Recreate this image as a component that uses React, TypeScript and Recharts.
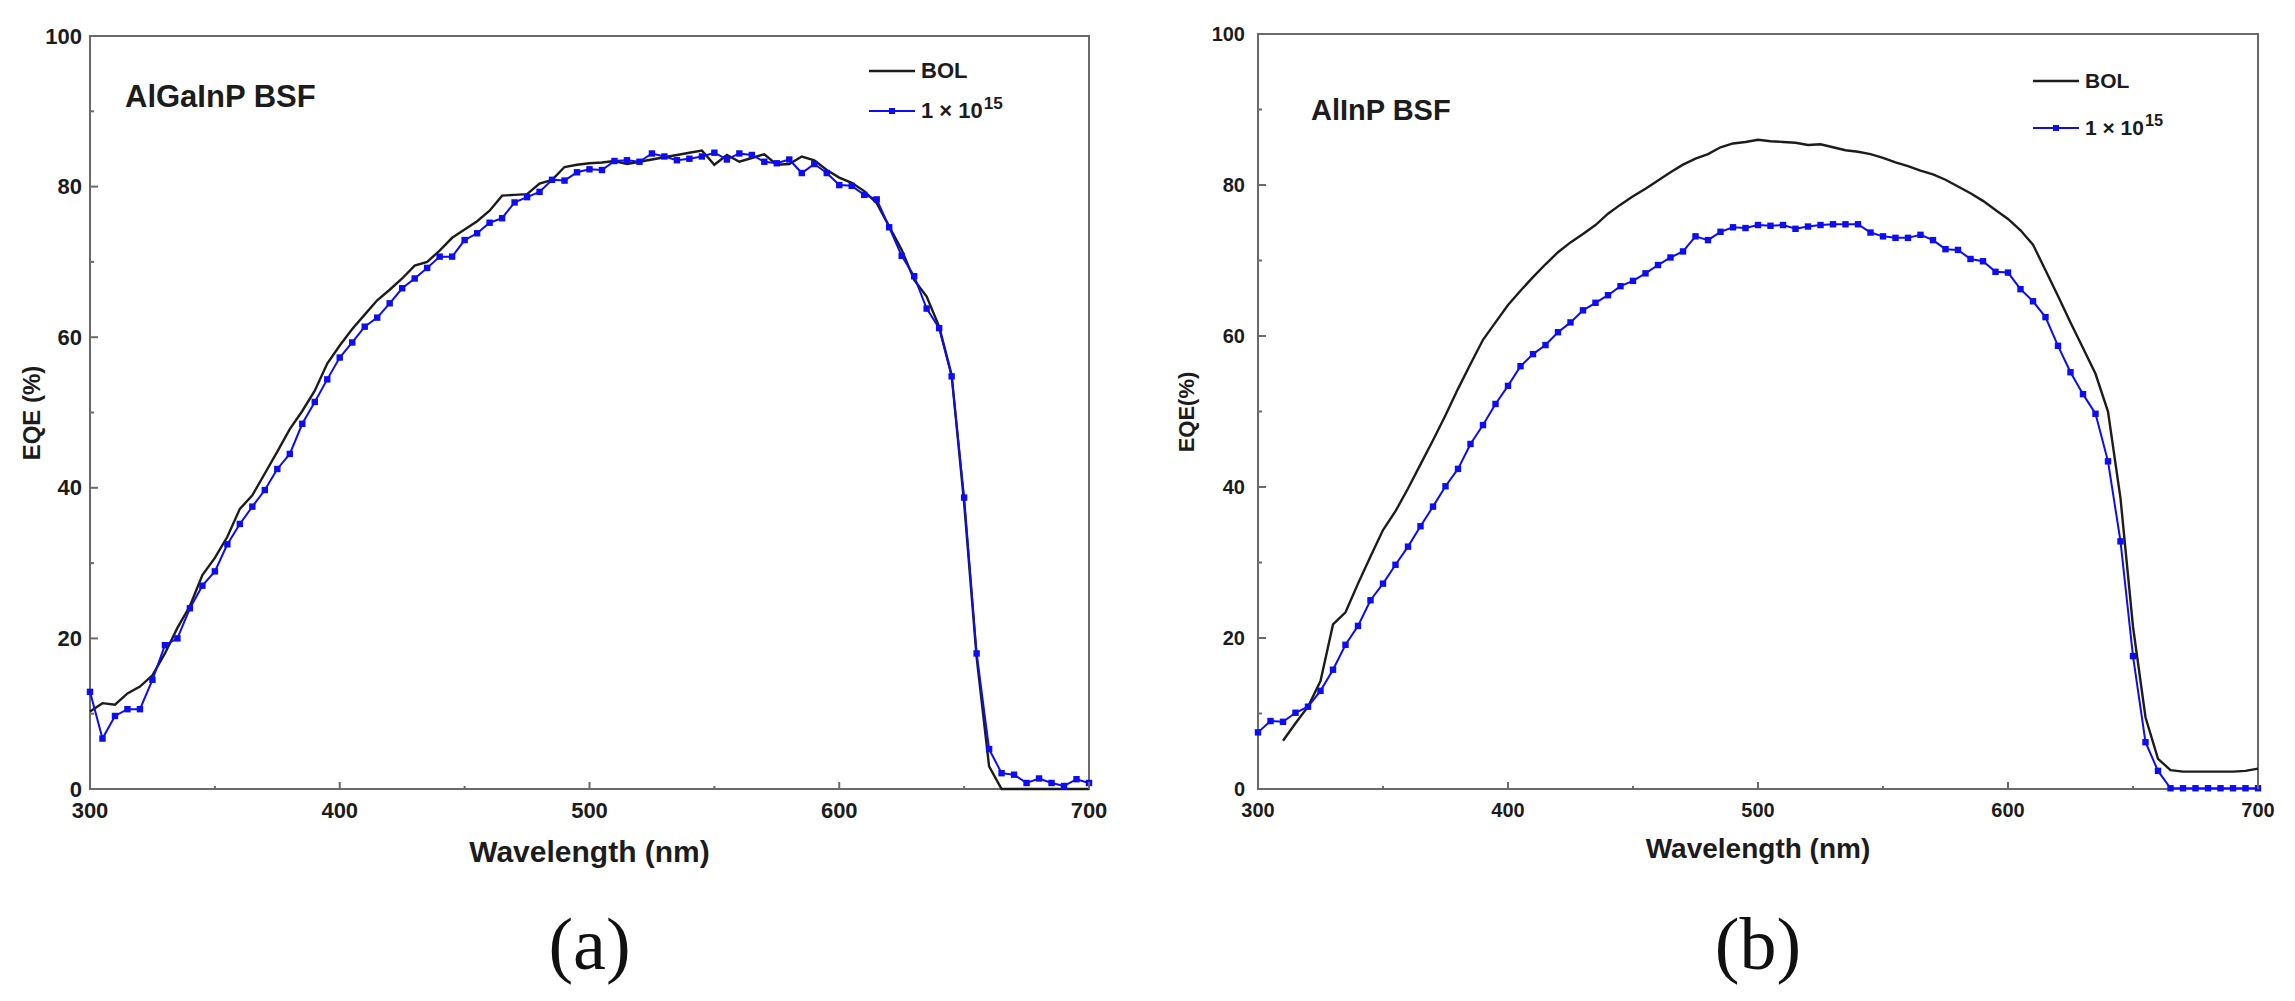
import { LineChart, Line, XAxis, YAxis, ReferenceArea, Legend } from 'recharts'

// ─── Data ───────────────────────────────────────────────────────
const WAVELENGTH = [
  300, 305, 310, 315, 320, 325, 330, 335, 340, 345,
  350, 355, 360, 365, 370, 375, 380, 385, 390, 395,
  400, 405, 410, 415, 420, 425, 430, 435, 440, 445,
  450, 455, 460, 465, 470, 475, 480, 485, 490, 495,
  500, 505, 510, 515, 520, 525, 530, 535, 540, 545,
  550, 555, 560, 565, 570, 575, 580, 585, 590, 595,
  600, 605, 610, 615, 620, 625, 630, 635, 640, 645,
  650, 655, 660, 665, 670, 675, 680, 685, 690, 695,
  700,
]

// (a) AlGaInP BSF
const A_BOL = [
  10.3, 11.4, 11.2, 12.7, 13.6, 15.1, 18.0, 21.4, 24.3, 28.4,
  30.7, 33.5, 37.2, 39.0, 41.9, 44.8, 47.8, 50.2, 52.9, 56.5,
  58.9, 61.1, 63.0, 64.9, 66.3, 67.8, 69.5, 70.0, 71.5, 73.2,
  74.3, 75.4, 76.8, 78.8, 78.9, 79.0, 80.4, 80.9, 82.6, 82.9,
  83.1, 83.2, 83.4, 83.0, 83.3, 83.6, 83.9, 84.2, 84.5, 84.8,
  82.9, 84.2, 83.3, 83.8, 84.3, 82.9, 83.0, 84.0, 83.5, 82.2,
  81.2, 80.5, 79.4, 77.8, 74.7, 71.6, 67.6, 65.4, 61.4, 55.0,
  38.0, 17.5, 3.0, 0, 0, 0, 0, 0, 0, 0,
  0,
]
const A_IRR = [
  12.9, 6.7, 9.7, 10.6, 10.6, 14.5, 19.1, 20.0, 24.0, 27.0,
  28.9, 32.5, 35.2, 37.5, 39.7, 42.5, 44.5, 48.5, 51.4, 54.4,
  57.3, 59.3, 61.4, 62.6, 64.5, 66.5, 67.8, 69.2, 70.7, 70.7,
  72.9, 73.8, 75.2, 75.8, 77.9, 78.6, 79.3, 80.9, 80.8, 81.9,
  82.3, 82.2, 83.4, 83.5, 83.3, 84.4, 84.0, 83.5, 83.7, 84.0,
  84.5, 83.6, 84.4, 84.2, 83.3, 83.1, 83.6, 81.8, 83.0, 81.8,
  80.2, 80.1, 78.9, 78.3, 74.6, 70.8, 68.1, 63.8, 61.2, 54.8,
  38.7, 18.0, 5.3, 2.1, 1.9, 0.8, 1.4, 0.8, 0.4, 1.3,
  0.8,
]

// (b) AlInP BSF
const B_BOL = [
  null, null, 6.4, 8.7, 10.9, 14.3, 21.8, 23.4, 27.2, 30.8,
  34.3, 36.8, 39.8, 43.0, 46.2, 49.5, 53.0, 56.3, 59.5, 61.8,
  64.1, 66.0, 67.8, 69.5, 71.1, 72.4, 73.5, 74.7, 76.2, 77.4,
  78.5, 79.5, 80.6, 81.7, 82.7, 83.5, 84.1, 85.0, 85.5, 85.7,
  86.0, 85.8, 85.7, 85.6, 85.3, 85.4, 85.0, 84.6, 84.4, 84.1,
  83.6, 83.0, 82.5, 81.9, 81.4, 80.7, 79.8, 78.9, 77.9, 76.7,
  75.5, 74.0, 72.1, 68.7, 65.3, 61.8, 58.4, 55.0, 50.0, 38.5,
  21.5, 9.5, 4.0, 2.5, 2.3, 2.3, 2.3, 2.3, 2.3, 2.4,
  2.7,
]
const B_IRR = [
  7.5, 9.0, 8.9, 10.1, 10.9, 13.0, 15.8, 19.1, 21.6, 25.0,
  27.2, 29.7, 32.1, 34.8, 37.4, 40.1, 42.4, 45.7, 48.2, 51.0,
  53.4, 56.0, 57.6, 58.8, 60.5, 61.8, 63.4, 64.4, 65.4, 66.6,
  67.3, 68.3, 69.4, 70.4, 71.2, 73.2, 72.7, 73.8, 74.4, 74.3,
  74.7, 74.6, 74.7, 74.2, 74.5, 74.7, 74.8, 74.8, 74.8, 73.7,
  73.2, 73.0, 73.0, 73.4, 72.7, 71.5, 71.4, 70.2, 69.9, 68.5,
  68.4, 66.2, 64.6, 62.5, 58.7, 55.2, 52.3, 49.7, 43.4, 32.8,
  17.6, 6.2, 2.4, 0.1, 0.1, 0.1, 0.1, 0.1, 0.1, 0.1,
  0.1,
]

const X_TICKS = [300, 350, 400, 450, 500, 550, 600, 650, 700]
const Y_TICKS = [0, 10, 20, 30, 40, 50, 60, 70, 80, 90, 100]
const SERIES_NAMES = ['BOL', '1 × 10']

const FONT = '"Liberation Sans", Arial, Helvetica, sans-serif'
const SERIF = '"Liberation Serif", "Times New Roman", serif'
const AXIS = '#6a6a6a'
const INK = '#1c1c1c'
const BLUE = '#0c0cf5'

const buildRows = (bol: (number | null)[], irr: number[]) =>
  WAVELENGTH.map((w, i) => ({ w, bol: bol[i], irr: irr[i] }))

// ─── Panel ──────────────────────────────────────────────────────
interface PanelProps {
  left: number
  width: number
  plot: { x: number; y: number; right: number; bottom: number } // plot box, panel coords
  rows: { w: number; bol: number | null; irr: number }[]
  tickFont: number
  tickGap: number
  titleFont: number
  titleY: number
  yTitle: string
  yTitleFont: number
  yTitleX: number
  note: string
  noteX: number
  noteY: number
  noteFont: number
  legendX: number
  legendY: number
  legendRow: number
  legendFont: number
  tag: string
}

function Panel(p: PanelProps) {
  // axes get 1px of room (a 0px axis is not drawn at all)
  const margin = { top: p.plot.y, left: p.plot.x - 1, right: p.width - p.plot.right, bottom: 1001 - p.plot.bottom - 1 }

  const XTick = ({ x, y, payload }: any) => {
    const major = payload.value % 100 === 0
    return (
      <g>
        <line x1={x} x2={x} y1={y} y2={y - (major ? 7 : 3)} stroke={AXIS} strokeWidth={2} />
        {major && (
          <text x={x} y={y + 21} textAnchor="middle" dominantBaseline="central"
            fontFamily={FONT} fontWeight={700} fontSize={p.tickFont} fill={INK}>
            {payload.value}
          </text>
        )}
      </g>
    )
  }

  const YTick = ({ x, y, payload }: any) => {
    const major = payload.value % 20 === 0
    return (
      <g>
        <line x1={x} x2={x + (major ? 8 : 4)} y1={y} y2={y} stroke={AXIS} strokeWidth={2} />
        {major && (
          <text x={x - p.tickGap} y={y} textAnchor="end" dominantBaseline="central"
            fontFamily={FONT} fontWeight={700} fontSize={p.tickFont} fill={INK}>
            {payload.value}
          </text>
        )}
      </g>
    )
  }

  const LegendBox = () => (
    <div style={{ fontFamily: FONT, fontWeight: 700, fontSize: p.legendFont, color: INK, lineHeight: 1 }}>
      <div style={{ display: 'flex', alignItems: 'center', height: p.legendRow }}>
        <svg width={46} height={12}>
          <line x1={0} x2={46} y1={6} y2={6} stroke={INK} strokeWidth={2.5} />
        </svg>
        <span style={{ marginLeft: 6 }}>{SERIES_NAMES[0]}</span>
      </div>
      <div style={{ display: 'flex', alignItems: 'center', height: p.legendRow }}>
        <svg width={46} height={12}>
          <line x1={0} x2={46} y1={6} y2={6} stroke={BLUE} strokeWidth={2} />
          <rect x={20} y={3} width={6} height={6} fill={BLUE} />
        </svg>
        <span style={{ marginLeft: 6 }}>
          {SERIES_NAMES[1]}
          <span style={{ fontSize: '0.78em', position: 'relative', top: '-0.55em', marginLeft: 1 }}>15</span>
        </span>
      </div>
    </div>
  )

  const squareDot = (d: any) => (
    <rect key={`d-${d.index}`} x={d.cx - 3.2} y={d.cy - 3.2} width={6.4} height={6.4} fill={BLUE} />
  )

  const cx = (p.plot.x + p.plot.right) / 2
  const cy = (p.plot.y + p.plot.bottom) / 2

  return (
    <div style={{ position: 'absolute', left: p.left, top: 0, width: p.width, height: 1001 }}>
      <LineChart width={p.width} height={1001} data={p.rows} margin={margin}>
        <XAxis dataKey="w" type="number" domain={[300, 700]} ticks={X_TICKS} height={1}
          axisLine={false} tickLine={false} tickSize={0} tickMargin={0} tick={XTick} interval={0} />
        <YAxis type="number" domain={[0, 100]} ticks={Y_TICKS} width={1}
          axisLine={false} tickLine={false} tickSize={0} tickMargin={0} tick={YTick} interval={0} />
        <ReferenceArea x1={300} x2={700} y1={0} y2={100} fill="none" stroke={AXIS} strokeWidth={2} />
        <Line type="linear" dataKey="bol" stroke={INK} strokeWidth={2.4} dot={false}
          isAnimationActive={false} />
        <Line type="linear" dataKey="irr" stroke={BLUE} strokeWidth={2} dot={squareDot}
          isAnimationActive={false} />
        <Legend layout="vertical" align="center" verticalAlign="middle" content={LegendBox}
          wrapperStyle={{ left: p.legendX, top: p.legendY, width: 'auto', height: 'auto' }} />
      </LineChart>

      <div style={{ position: 'absolute', left: p.noteX, top: p.noteY, transform: 'translateY(-50%)',
        fontFamily: FONT, fontWeight: 700, fontSize: p.noteFont, color: INK, whiteSpace: 'nowrap' }}>
        {p.note}
      </div>
      <div style={{ position: 'absolute', left: cx, top: p.titleY, transform: 'translate(-50%, -50%)',
        fontFamily: FONT, fontWeight: 700, fontSize: p.titleFont, color: INK, whiteSpace: 'nowrap' }}>
        Wavelength (nm)
      </div>
      <div style={{ position: 'absolute', left: p.yTitleX, top: cy, transform: 'translate(-50%, -50%) rotate(-90deg)',
        fontFamily: FONT, fontWeight: 700, fontSize: p.yTitleFont, color: INK, whiteSpace: 'nowrap' }}>
        {p.yTitle}
      </div>
      <div style={{ position: 'absolute', left: cx, top: 944, transform: 'translate(-50%, -50%)',
        fontFamily: SERIF, fontSize: 74, color: '#111', whiteSpace: 'nowrap' }}>
        {p.tag}
      </div>
    </div>
  )
}

export default function App() {
  return (
    <div style={{ position: 'absolute', left: 0, top: 0, width: 2295, height: 1001, background: '#fff', overflow: 'hidden' }}>
      <Panel
        left={0} width={1150}
        plot={{ x: 90, y: 36, right: 1089, bottom: 789 }}
        rows={buildRows(A_BOL, A_IRR)}
        tickFont={22} tickGap={8}
        titleFont={30} titleY={852}
        yTitle="EQE (%)" yTitleFont={24} yTitleX={32}
        note="AlGaInP BSF" noteX={125} noteY={97} noteFont={31}
        legendX={869} legendY={51} legendRow={40} legendFont={22}
        tag="(a)"
      />
      <Panel
        left={1150} width={1145}
        plot={{ x: 108, y: 34, right: 1108, bottom: 789 }}
        rows={buildRows(B_BOL, B_IRR)}
        tickFont={20} tickGap={13}
        titleFont={28} titleY={849}
        yTitle="EQE(%)" yTitleFont={22} yTitleX={37}
        note="AlInP BSF" noteX={161} noteY={110} noteFont={29}
        legendX={883} legendY={57} legendRow={47} legendFont={21}
        tag="(b)"
      />
    </div>
  )
}
